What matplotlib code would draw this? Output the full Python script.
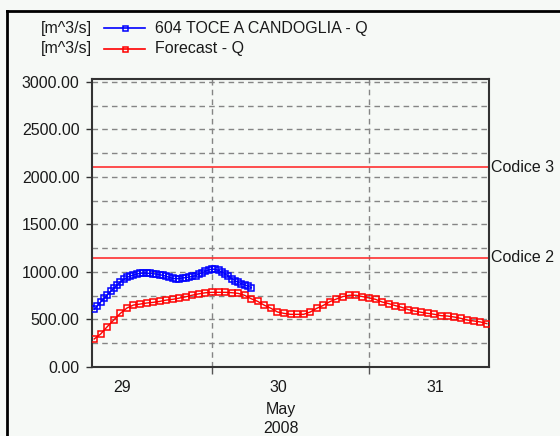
import numpy as np
import matplotlib
matplotlib.use("Agg")
import matplotlib.pyplot as plt
from matplotlib.lines import Line2D

plt.rcParams['font.family'] = ['Liberation Sans', 'DejaVu Sans']

# Observed discharge, half-hourly from 29 May 06:00 (hours since 29 May 00:00)
obs_start, obs_step = 6.0, 0.5
observed_q = [604, 641, 682, 719, 755, 793, 825, 859, 894, 919, 941, 955, 966,
              976, 984, 986, 986, 983, 980, 976, 970, 962, 953, 941, 931, 927,
              929, 935, 939, 945, 951, 960, 975, 992, 1006, 1020, 1028, 1026,
              1015, 998, 978, 953, 929, 907, 889, 875, 864, 848, 833]

# Forecast discharge, hourly from 29 May 06:00
fc_start, fc_step = 6.0, 1.0
forecast_q = [292, 345, 422, 492, 562, 618, 650, 660, 671, 678, 688, 702, 710,
              723, 737, 754, 768, 779, 784, 784, 784, 780, 773, 752, 716, 688,
              648, 616, 577, 562, 552, 552, 552, 576, 615, 646, 685, 713, 739,
              753, 753, 739, 725, 710, 682, 665, 644, 626, 601, 586, 573, 562,
              552, 538, 534, 524, 510, 492, 482, 472, 454]

# Warning thresholds
thresholds = {"Codice 3": 2100, "Codice 2": 1150}

day_labels = ["29", "30", "31"]
day_label_pos = [10.2, 34.2, 58.2]
midnights = [24, 48]
yticks = [0, 500, 1000, 1500, 2000, 2500, 3000]
ygrid = np.arange(250, 3001, 250)

series_names = ["604 TOCE A CANDOGLIA - Q", "Forecast - Q"]
unit = "[m^3/s]"

bg = "#f6f9f6"
txt = "#1a1a1a"
FS = 11.5

fig = plt.figure(figsize=(5.6, 4.36), dpi=100, facecolor=bg)
W, H = 560, 436
ax = fig.add_axes([92 / W, 1 - 367.3 / H, (489 - 92) / W, (367.3 - 79.3) / H])
ax.set_facecolor(bg)

t_obs = obs_start + obs_step * np.arange(len(observed_q))
t_fc = fc_start + fc_step * np.arange(len(forecast_q))

ax.set_xlim(5.67, 66.33)
ax.set_ylim(-6, 3028)

# grid
for g in ygrid:
    ax.axhline(g, color="#858585", lw=1.0, ls=(0, (4, 3)), zorder=1)
for m in midnights:
    ax.axvline(m, color="#858585", lw=1.0, ls=(0, (4, 3)), zorder=1)

# thresholds
for name, val in thresholds.items():
    ax.axhline(val, color="#ff3030", lw=1.2, zorder=2)
    ax.text(1.005, val, name, transform=ax.get_yaxis_transform(),
            ha="left", va="center", fontsize=FS, color=txt)

ax.plot(t_fc, forecast_q, color="#ff0000", lw=1.0, marker="s", ms=3.8,
        mfc="none", mec="#ff0000", mew=1.1, zorder=3)
ax.plot(t_obs, observed_q, color="#0000ff", lw=1.0, marker="s", ms=3.8,
        mfc="none", mec="#0000ff", mew=1.1, zorder=4)

ax.set_yticks(yticks)
ax.set_yticklabels([f"{v:.2f}" for v in yticks])
ax.tick_params(axis="y", direction="out", length=4, width=1, pad=5,
               labelsize=FS, labelcolor=txt, color="#333333")

ax.set_xticks(midnights)
ax.set_xticklabels(["", ""])
ax.tick_params(axis="x", which="major", direction="out", length=5, width=1,
               color="#555555")
ax.set_xticks(day_label_pos, minor=True)
ax.set_xticklabels(day_labels, minor=True)
ax.tick_params(axis="x", which="minor", length=0, pad=9, labelsize=FS,
               labelcolor=txt)

for s in ax.spines.values():
    s.set_color("#333333")
    s.set_linewidth(1.5)

fig.text(281 / W, 1 - 409 / H, "May", ha="center", va="center",
         fontsize=FS, color=txt)
fig.text(281 / W, 1 - 428 / H, "2008", ha="center", va="center",
         fontsize=FS, color=txt)

# legend
colors = ["#0000ff", "#ff0000"]
rows_y = [28, 49]
for name, col, yy in zip(series_names, colors, rows_y):
    yf = 1 - yy / H
    fig.text(92 / W, yf, unit, ha="right", va="center", fontsize=FS, color=txt)
    fig.add_artist(Line2D([104 / W, 145 / W], [yf, yf], color=col, lw=1.2,
                          transform=fig.transFigure))
    fig.add_artist(Line2D([125 / W], [yf], color=col, marker="s", ms=3.6,
                          mfc="none", mec=col, mew=1.1,
                          transform=fig.transFigure))
    fig.text(155 / W, yf, name, ha="left", va="center", fontsize=FS, color=txt)

# outer frame
fig.add_artist(Line2D([7 / W, 7 / W], [0, 1 - 11 / H], color="black", lw=2,
                      transform=fig.transFigure))
fig.add_artist(Line2D([7 / W, 1], [1 - 11 / H, 1 - 11 / H], color="black",
                      lw=2, transform=fig.transFigure))

fig.savefig("out.png", dpi=100, facecolor=bg)
